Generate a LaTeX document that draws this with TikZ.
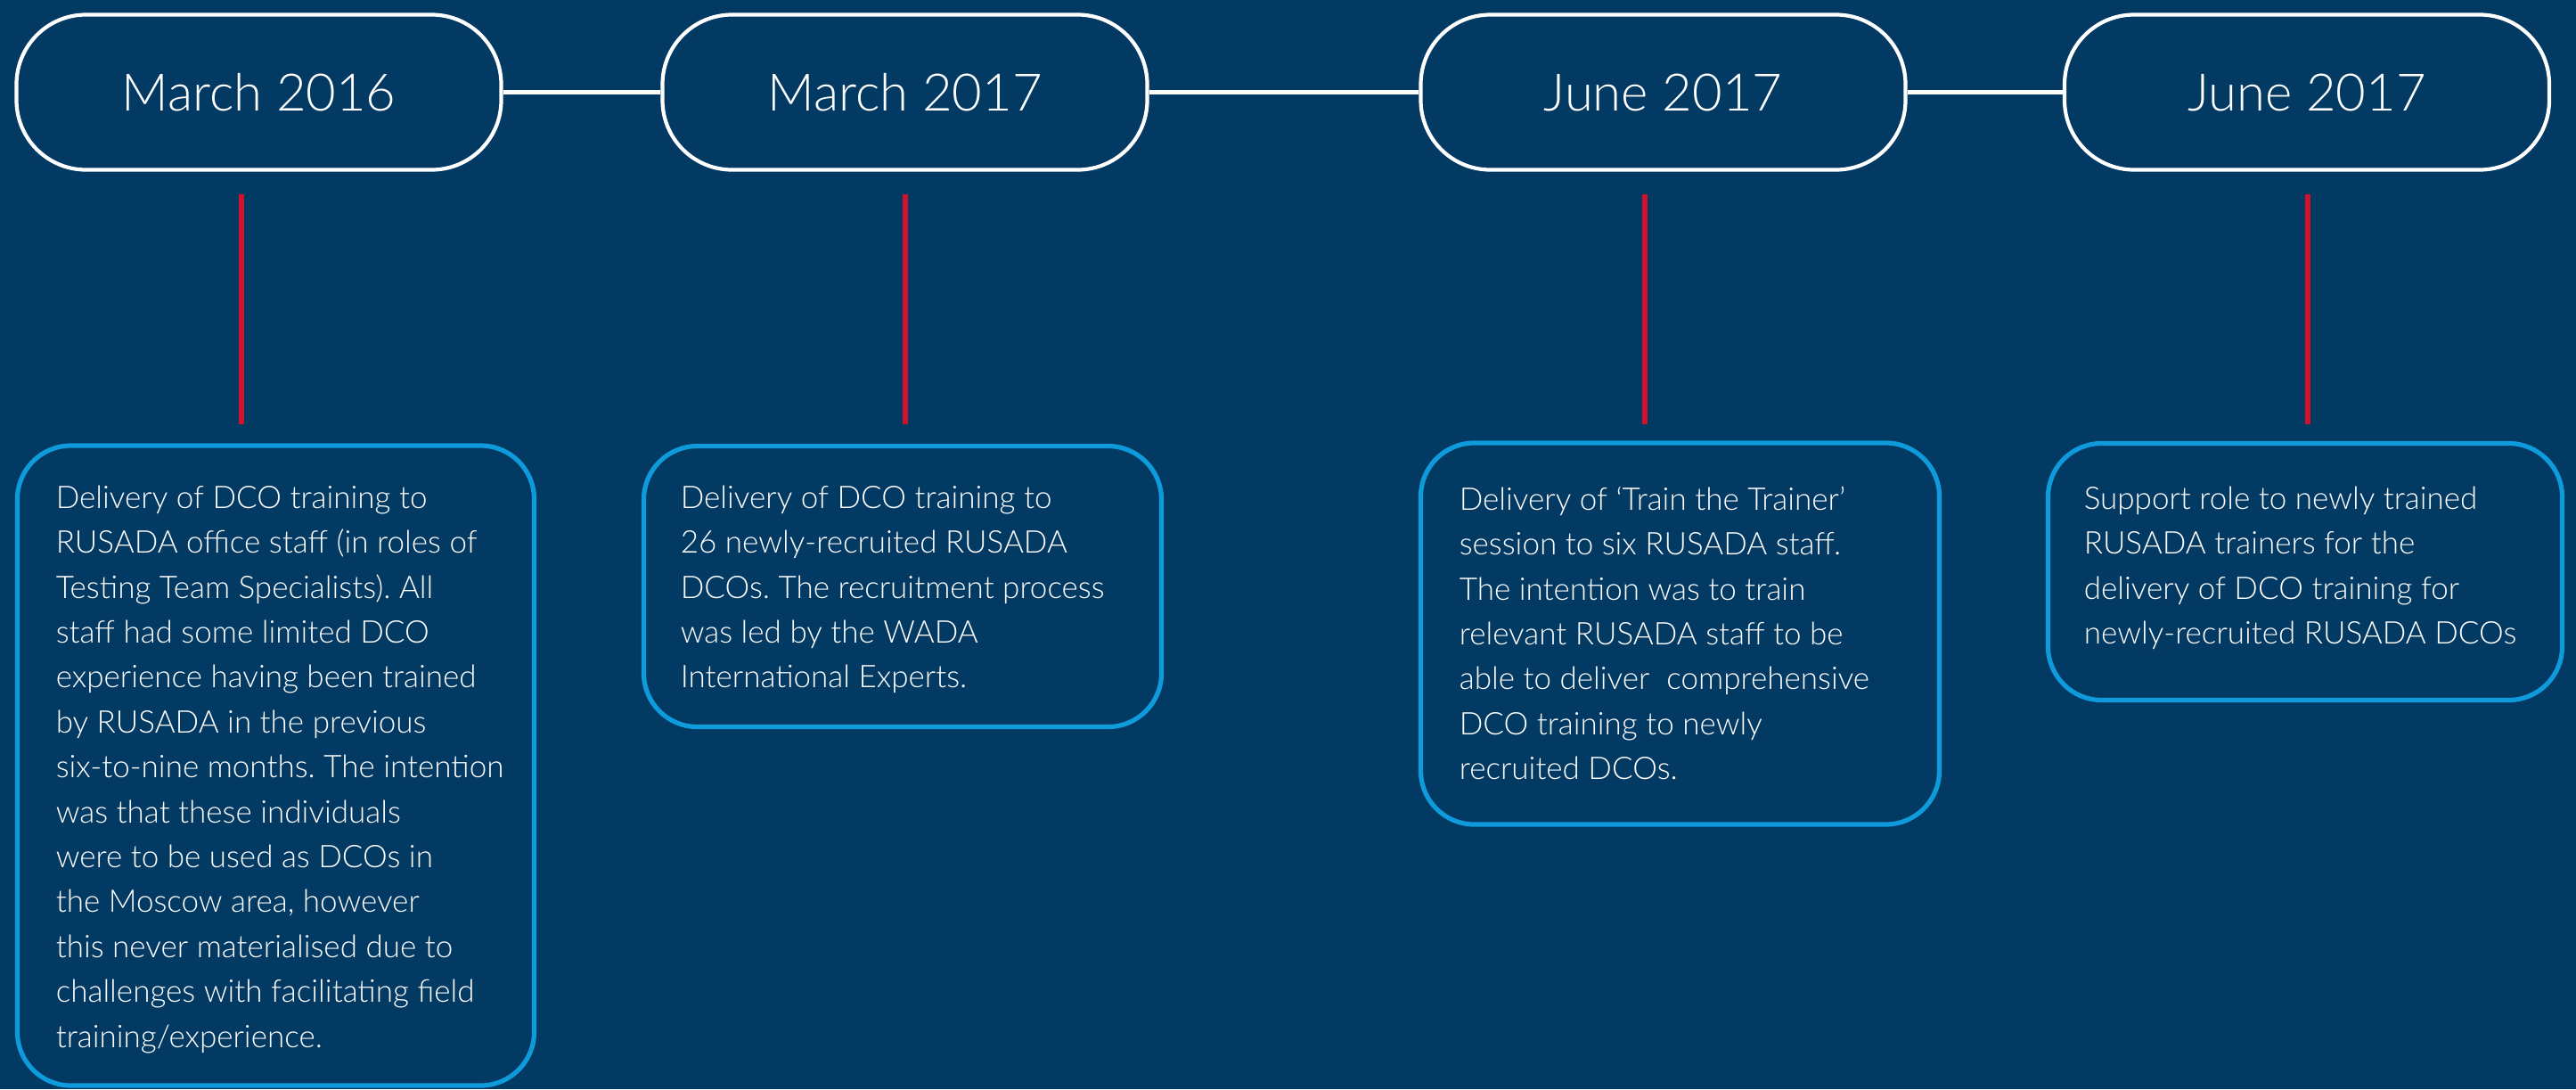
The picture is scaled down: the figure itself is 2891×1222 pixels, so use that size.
\documentclass[tikz,border=0pt]{standalone}
\usepackage{fontspec}
\setmainfont{Lato Light}
\definecolor{bgnavy}{RGB}{2,58,99}
\definecolor{skyblue}{RGB}{14,154,219}
\definecolor{tickred}{RGB}{210,18,44}
\tikzset{
  datebox/.style={draw=white, line width=1.05pt, rounded corners=19.5pt, minimum width=136pt, minimum height=43.5pt, inner sep=0pt,
    font=\fontsize{14.5pt}{17pt}\selectfont, text=white},
  descbox/.style={draw=skyblue, line width=1.3pt, rounded corners=15pt, inner sep=0pt},
  desctext/.style={anchor=north west, inner sep=0pt, align=left, text=white, font=\fontsize{8.75pt}{12.6pt}\selectfont\frenchspacing},
  joiner/.style={draw=white, line width=1.2pt},
  tick/.style={draw=tickred, line width=1.5pt}
}
\begin{document}
\begin{tikzpicture}[x=0.25pt,y=-0.25pt]
\fill[bgnavy] (0,0) rectangle (2891,1222);
\useasboundingbox (0,0) rectangle (2891,1222);
% date boxes
\node[datebox] (d1) at (290.5,103.5) {March 2016};
\node[datebox] (d2) at (1015.5,103.5) {March 2017};
\node[datebox] (d3) at (1866.5,103.5) {June 2017};
\node[datebox] (d4) at (2589,103.5) {June 2017};
\draw[joiner] (d1.east) -- (d2.west);
\draw[joiner] (d2.east) -- (d3.west);
\draw[joiner] (d3.east) -- (d4.west);
% red ticks
\coordinate (t1a) at (271,218); \coordinate (t1b) at (271,476);
\coordinate (t2a) at (1016,218); \coordinate (t2b) at (1016,476);
\coordinate (t3a) at (1846,218); \coordinate (t3b) at (1846,476);
\coordinate (t4a) at (2590,218); \coordinate (t4b) at (2590,476);
\draw[tick] (t1a) -- (t1b);
\draw[tick] (t2a) -- (t2b);
\draw[tick] (t3a) -- (t3b);
\draw[tick] (t4a) -- (t4b);
% description boxes
\node[descbox, minimum width=145pt, minimum height=179.5pt] (bA) at (309.5,859) {};
\node[descbox, minimum width=145.25pt, minimum height=78.75pt] (bB) at (1013,658) {};
\node[descbox, minimum width=145.5pt, minimum height=107pt] (bC) at (1885.5,711) {};
\node[descbox, minimum width=144.25pt, minimum height=72pt] (bD) at (2587,641.5) {};
% texts
\node[desctext] (tA) at (62,544) {Delivery of DCO training to\\RUSADA office staff (in roles of\\Testing Team Specialists). All\\staff had some limited DCO\\experience having been trained\\by RUSADA in the previous\\six-to-nine months. The intention\\was that these individuals\\were to be used as DCOs in\\the Moscow area, however\\this never materialised due to\\challenges with facilitating field\\training/experience.};
\node[desctext] (tB) at (763,544) {Delivery of DCO training to\\26 newly-recruited RUSADA\\DCOs. The recruitment process\\was led by the WADA\\International Experts.};
\node[desctext] (tC) at (1637,545) {Delivery of ‘Train the Trainer’\\session to six RUSADA staff.\\The intention was to train\\relevant RUSADA staff to be\\able to deliver~ comprehensive\\DCO training to newly\\recruited DCOs.};
\node[desctext] (tD) at (2338,545) {Support role to newly trained\\RUSADA trainers for the\\delivery of DCO training for\\newly-recruited RUSADA DCOs};
\end{tikzpicture}
\end{document}
